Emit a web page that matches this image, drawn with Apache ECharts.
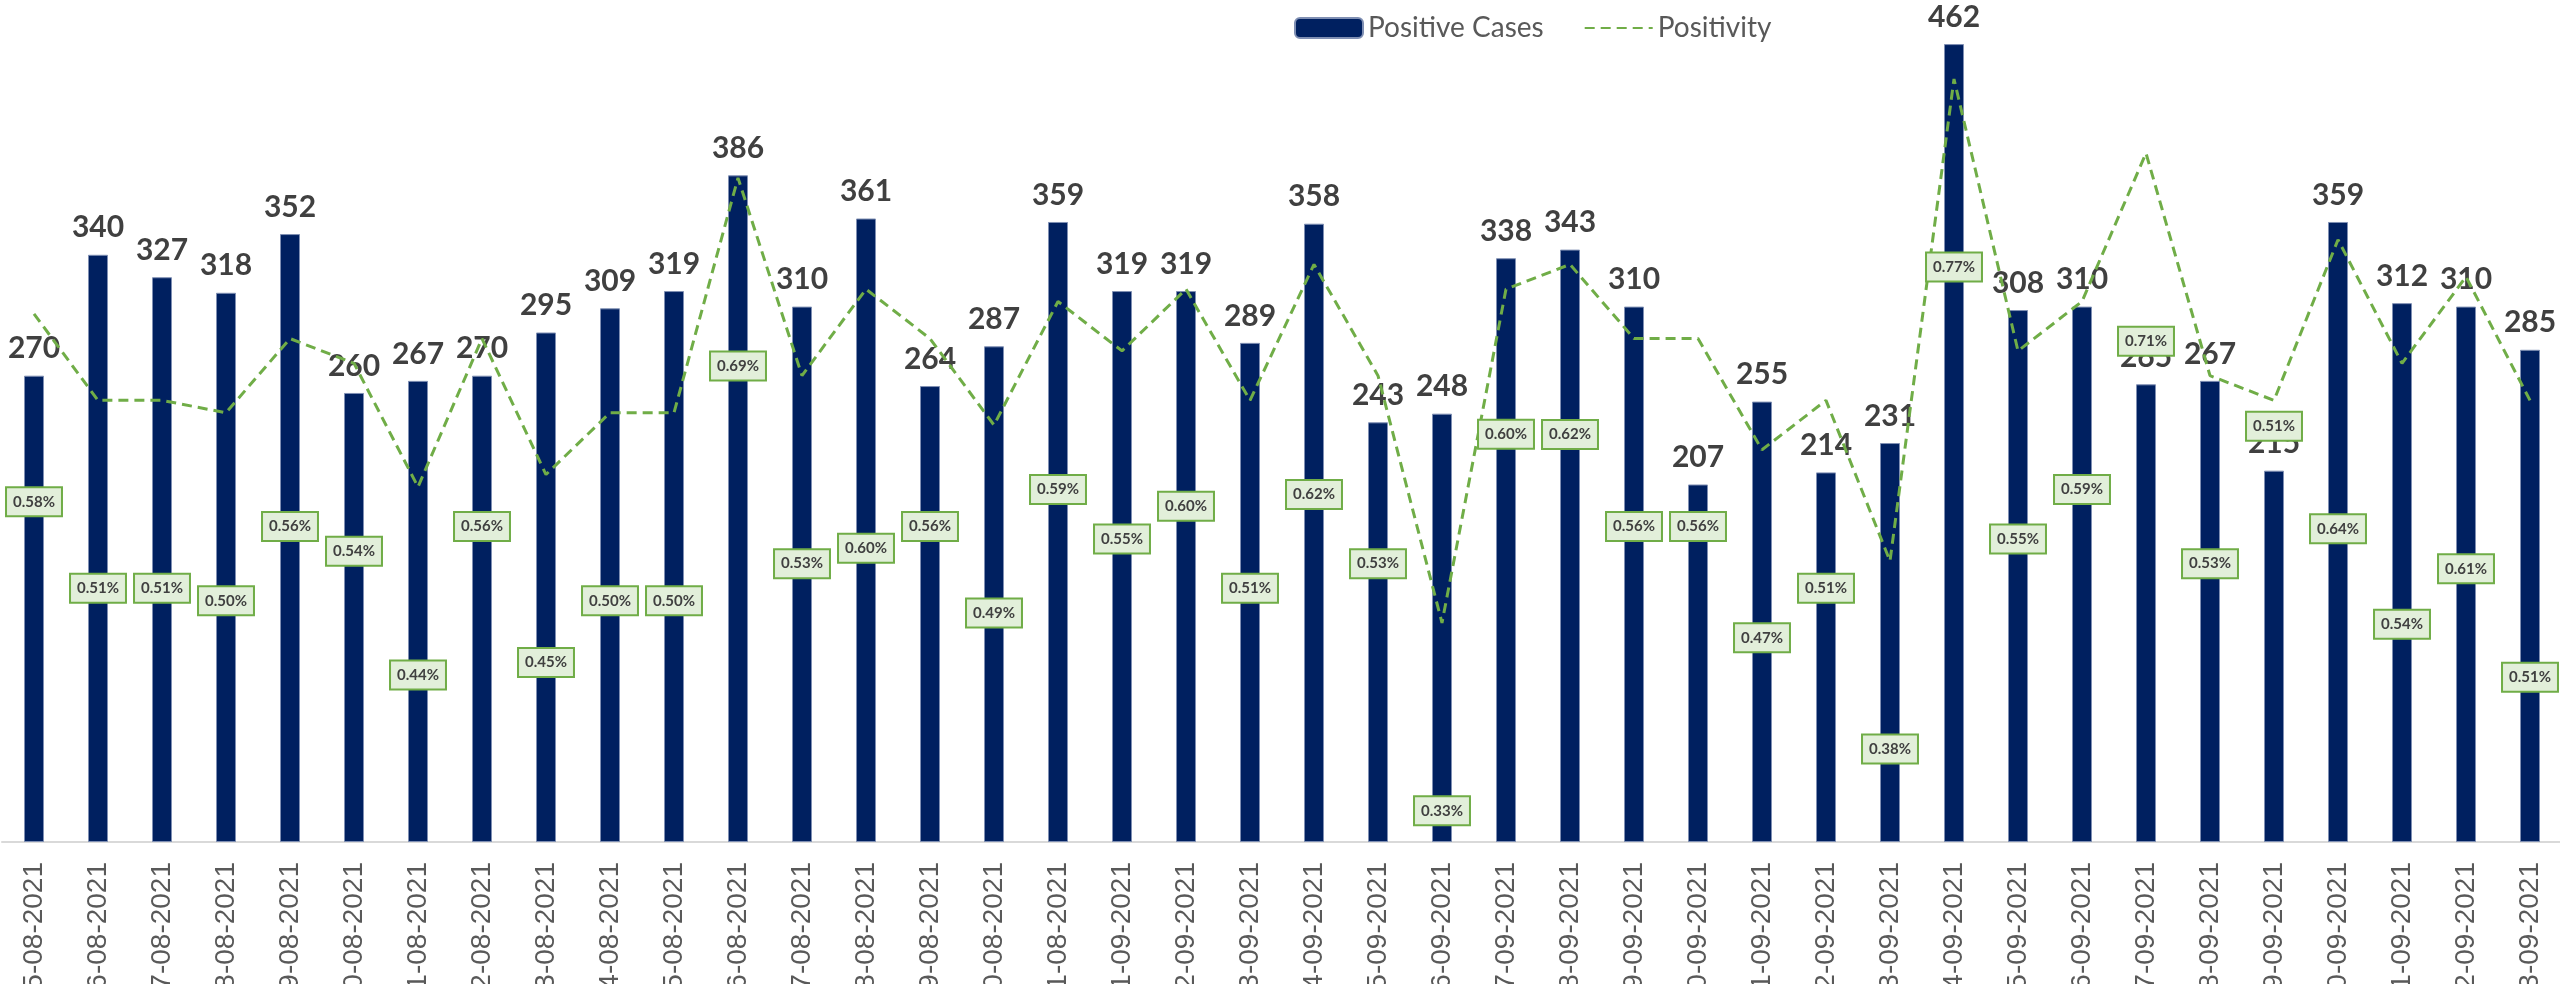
<!DOCTYPE html>
<html>
<head>
<meta charset="utf-8">
<script src="https://cdn.jsdelivr.net/npm/echarts@6/dist/echarts.min.js"></script>
<style>
  html, body { margin: 0; padding: 0; background: #fff; }
  #chart { width: 2560px; height: 984px; }
</style>
</head>
<body>
<div id="chart"></div>
<script>
// dates 15-08-2021 .. 23-09-2021
const dates = [
  '15-08-2021', '16-08-2021', '17-08-2021', '18-08-2021', '19-08-2021',
  '20-08-2021', '21-08-2021', '22-08-2021', '23-08-2021', '24-08-2021',
  '25-08-2021', '26-08-2021', '27-08-2021', '28-08-2021', '29-08-2021',
  '30-08-2021', '31-08-2021', '01-09-2021', '02-09-2021', '03-09-2021',
  '04-09-2021', '05-09-2021', '06-09-2021', '07-09-2021', '08-09-2021',
  '09-09-2021', '10-09-2021', '11-09-2021', '12-09-2021', '13-09-2021',
  '14-09-2021', '15-09-2021', '16-09-2021', '17-09-2021', '18-09-2021',
  '19-09-2021', '20-09-2021', '21-09-2021', '22-09-2021', '23-09-2021'
];

const positiveCases = [
  270, 340, 327, 318, 352, 260, 267, 270, 295, 309,
  319, 386, 310, 361, 264, 287, 359, 319, 319, 289,
  358, 243, 248, 338, 343, 310, 207, 255, 214, 231,
  462, 308, 310, 265, 267, 215, 359, 312, 310, 285
];

// positivity in %
const positivity = [
  0.58, 0.51, 0.51, 0.50, 0.56, 0.54, 0.44, 0.56, 0.45, 0.50,
  0.50, 0.69, 0.53, 0.60, 0.56, 0.49, 0.59, 0.55, 0.60, 0.51,
  0.62, 0.53, 0.33, 0.60, 0.62, 0.56, 0.56, 0.47, 0.51, 0.38,
  0.77, 0.55, 0.59, 0.71, 0.53, 0.51, 0.64, 0.54, 0.61, 0.51
];

// label boxes sit below the line point; a few were moved by hand in the original
const labelDrop = 188;
const labelShift = { 13: 259, 18: 217, 20: 230, 23: 145, 24: 170, 35: 26, 36: 289, 37: 261, 38: 292, 39: 277 };

const positivityData = positivity.map((v, i) => ({
    value: v,
    label: { offset: [0, labelShift[i] !== undefined ? labelShift[i] : labelDrop] }
}));

const chart = echarts.init(document.getElementById('chart'));

chart.setOption({
    backgroundColor: '#ffffff',
    animation: false,
    legend: {
        left: 1289,
        top: 9,
        itemWidth: 68,
        itemHeight: 20,
        itemGap: 40,
        textStyle: {
            fontFamily: 'Lato',
            fontSize: 28,
            color: '#595959'
        },
        data: ['Positive Cases', 'Positivity']
    },
    grid: {
        left: 2,
        right: -2,
        top: 13,
        bottom: 142,
        containLabel: false,
        outerBoundsMode: 'none'
    },
    xAxis: {
        type: 'category',
        data: dates,
        axisLine: { lineStyle: { color: '#d9d9d9', width: 2 } },
        axisTick: { show: false },
        axisLabel: {
            rotate: 90,
            interval: 0,
            margin: 20,
            fontFamily: 'Liberation Sans',
            fontSize: 28,
            color: '#595959'
        }
    },
    yAxis: [
        {
            type: 'value',
            min: 0,
            max: 480,
            show: false,
            splitLine: { show: false }
        },
        {
            type: 'value',
            min: 0.1527,
            max: 0.8234,
            show: false,
            splitLine: { show: false }
        }
    ],
    series: [
        {
            name: 'Positive Cases',
            type: 'bar',
            data: positiveCases,
            barWidth: 20,
            itemStyle: {
                color: '#002060',
                borderColor: '#7f8fb3',
                borderWidth: 1
            },
            label: {
                show: true,
                position: 'top',
                distance: 12,
                fontFamily: 'Lato',
                fontWeight: 'bold',
                fontSize: 30,
                color: '#404040'
            }
        },
        {
            name: 'Positivity',
            type: 'line',
            yAxisIndex: 1,
            data: positivityData,
            symbol: 'circle',
            symbolSize: 2,
            showAllSymbol: true,
            lineStyle: {
                color: '#70ad47',
                width: 3,
                type: [10, 6]
            },
            itemStyle: { color: 'rgba(0,0,0,0)', borderWidth: 0 },
            label: {
                show: true,
                position: 'inside',
                formatter: p => p.value.toFixed(2) + '%',
                fontFamily: 'Lato',
                fontWeight: 'bold',
                fontSize: 15,
                color: '#404040',
                backgroundColor: '#e2efda',
                borderColor: '#70ad47',
                borderWidth: 2,
                padding: [6, 6]
            }
        }
    ]
});
</script>
</body>
</html>
